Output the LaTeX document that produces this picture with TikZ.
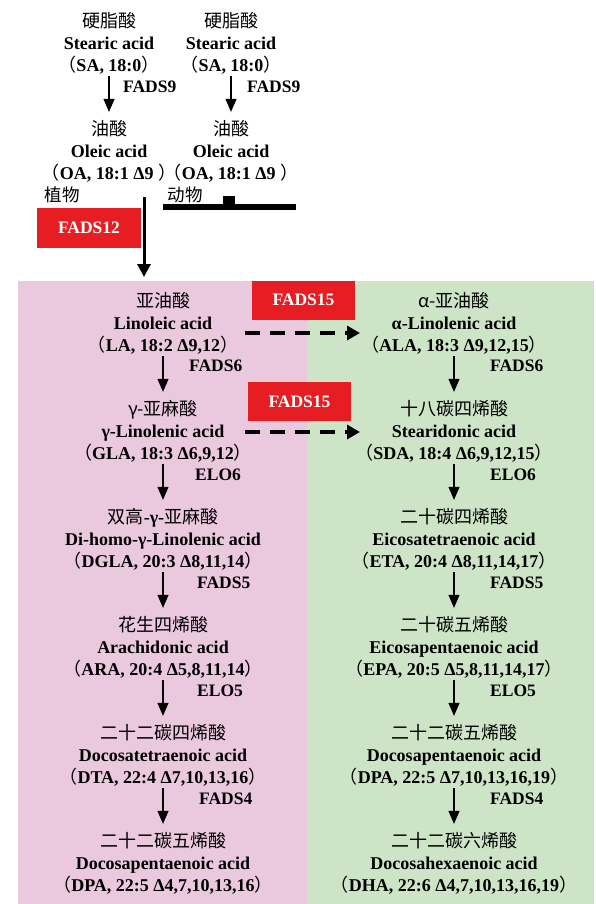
\documentclass[tikz,border=0pt]{standalone}
\usepackage{fontspec}
\setmainfont{Liberation Serif}
\newfontfamily\cjk{Noto Sans CJK SC}
\usetikzlibrary{arrows.meta,calc}
\definecolor{pinkbg}{RGB}{234,200,222}
\definecolor{greenbg}{RGB}{205,228,198}
\definecolor{fadsred}{RGB}{230,30,36}
\newcommand{\zh}[1]{{\cjk\mdseries #1}}
\newcommand{\cmpd}[3]{\zh{#1}\\#2\\\zh{（}#3\zh{）}}
\begin{document}
\begin{tikzpicture}[x=1pt,y=-1pt,
  cmp/.style={align=center, font=\fontsize{18}{22}\selectfont\bfseries, inner sep=2pt},
  lbl/.style={font=\fontsize{17.5}{18}\selectfont\bfseries, anchor=west, inner sep=0pt},
  zhlbl/.style={font=\fontsize{17.5}{18}\selectfont\cjk, inner sep=0pt},
  arr/.style={-{Triangle[width=11pt,length=13pt]}, line width=1.1pt, shorten >=6pt},
  bigarr/.style={-{Triangle[width=13pt,length=13pt]}, line width=3pt},
  redbox/.style={fill=fadsred, text=white, font=\fontsize{17.5}{18}\selectfont\bfseries, minimum width=103pt, minimum height=39pt, inner sep=0pt},
  dasharr/.style={-{Triangle[width=14pt,length=13pt]}, line width=4pt, dash pattern=on 15pt off 10pt}]
\useasboundingbox (0,0) rectangle (596,904);
\fill[white] (0,0) rectangle (596,904);
\fill[pinkbg] (18,281) rectangle (307,904);
\fill[greenbg] (307,281) rectangle (594,904);

% top part
\node[cmp] (sa1) at (109,43) {\cmpd{硬脂酸}{Stearic acid}{SA, 18:0}};
\node[cmp] (sa2) at (231,43) {\cmpd{硬脂酸}{Stearic acid}{SA, 18:0}};
\node[cmp] (oa1) at (109,151) {\cmpd{油酸}{Oleic acid}{OA, 18:1 Δ9\ }};
\node[cmp] (oa2) at (231,151) {\cmpd{油酸}{Oleic acid}{OA, 18:1 Δ9\ }};
\draw[arr] (sa1) -- (oa1);
\draw[arr] (sa2) -- (oa2);
\node[lbl] (f9a) at (123,87) {FADS9};
\node[lbl] (f9b) at (247,87) {FADS9};
\node[zhlbl] (plant) at (62,195) {植物};
\node[zhlbl] (animal) at (185,195) {动物};
\node[redbox, minimum width=104pt, minimum height=40pt] (f12) at (89,228) {FADS12};
\coordinate (pstart) at (144,197);
\coordinate (pend) at (144,277);
\draw[bigarr] (pstart) -- (pend);
\coordinate (barL) at (163,207);
\coordinate (barR) at (296,207);
\draw[line width=6pt] (barL) -- (barR);
\fill (223,196) rectangle (235,205);

% left column (omega-6)
\node[cmp] (la) at (163,323) {\cmpd{亚油酸}{Linoleic acid}{LA, 18:2 Δ9,12}};
\node[cmp] (gla) at (163,431) {\cmpd{γ-亚麻酸}{γ-Linolenic acid}{GLA, 18:3 Δ6,9,12}};
\node[cmp] (dgla) at (163,539) {\zh{双高}-γ-\zh{亚麻酸}\\Di-homo-γ-Linolenic acid\\\zh{（}DGLA, 20:3 Δ8,11,14\zh{）}};
\node[cmp] (ara) at (163,647) {\cmpd{花生四烯酸}{Arachidonic acid}{ARA, 20:4 Δ5,8,11,14}};
\node[cmp] (dta) at (163,755) {\cmpd{二十二碳四烯酸}{Docosatetraenoic acid}{DTA, 22:4 Δ7,10,13,16}};
\node[cmp] (dpa) at (163,863) {\cmpd{二十二碳五烯酸}{Docosapentaenoic acid}{DPA, 22:5 Δ4,7,10,13,16}};
\draw[arr] (la) -- (gla);
\draw[arr] (gla) -- (dgla);
\draw[arr] (dgla) -- (ara);
\draw[arr] (ara) -- (dta);
\draw[arr] (dta) -- (dpa);
\node[lbl] (l1) at (189,366) {FADS6};
\node[lbl] (l2) at (195,475) {ELO6};
\node[lbl] (l3) at (197,583) {FADS5};
\node[lbl] (l4) at (197,691) {ELO5};
\node[lbl] (l5) at (199,799) {FADS4};

% right column (omega-3)
\node[cmp] (ala) at (454,323) {\cmpd{α-亚油酸}{α-Linolenic acid}{ALA, 18:3 Δ9,12,15}};
\node[cmp] (sda) at (454,431) {\cmpd{十八碳四烯酸}{Stearidonic acid}{SDA, 18:4 Δ6,9,12,15}};
\node[cmp] (eta) at (454,539) {\cmpd{二十碳四烯酸}{Eicosatetraenoic acid}{ETA, 20:4 Δ8,11,14,17}};
\node[cmp] (epa) at (454,647) {\cmpd{二十碳五烯酸}{Eicosapentaenoic acid}{EPA, 20:5 Δ5,8,11,14,17}};
\node[cmp] (dpa2) at (454,755) {\cmpd{二十二碳五烯酸}{Docosapentaenoic acid}{DPA, 22:5 Δ7,10,13,16,19}};
\node[cmp] (dha) at (454,863) {\cmpd{二十二碳六烯酸}{Docosahexaenoic acid}{DHA, 22:6 Δ4,7,10,13,16,19}};
\draw[arr] (ala) -- (sda);
\draw[arr] (sda) -- (eta);
\draw[arr] (eta) -- (epa);
\draw[arr] (epa) -- (dpa2);
\draw[arr] (dpa2) -- (dha);
\node[lbl] (r1) at (490,366) {FADS6};
\node[lbl] (r2) at (490,475) {ELO6};
\node[lbl] (r3) at (490,583) {FADS5};
\node[lbl] (r4) at (490,691) {ELO5};
\node[lbl] (r5) at (490,799) {FADS4};

% FADS15 cross arrows
\node[redbox] (f15a) at (303.5,300) {FADS15};
\node[redbox] (f15b) at (299.5,401.5) {FADS15};
\draw[dasharr] ($(la.center)+(82,10)$) -- ($(ala.center)+(-94,10)$);
\draw[dasharr] ($(gla.center)+(82,1)$) -- ($(sda.center)+(-94,1)$);
\end{tikzpicture}
\end{document}
